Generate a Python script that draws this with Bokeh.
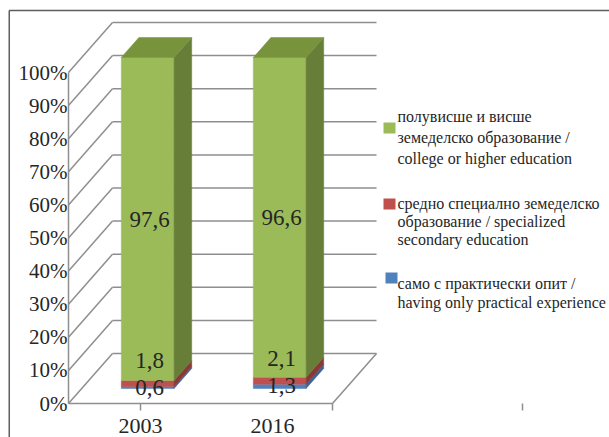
from bokeh.plotting import figure
from bokeh.embed import file_html
from bokeh.resources import INLINE
from bokeh.core.properties import value
from bokeh.models import Range1d, ColumnDataSource

# ---------------- data ----------------
years = ["2003", "2016"]
practical = [0.6, 1.3]      # само с практически опит
secondary = [1.8, 2.1]      # средно специално
higher = [97.6, 96.6]       # полувисше и висше
y_ticks = [0, 10, 20, 30, 40, 50, 60, 70, 80, 90, 100]
y_tick_labels = [f"{t}%" for t in y_ticks]
series_values = [practical, secondary, higher]
series_legend = [
    ["полувисше и висше", "земеделско образование /", "college or higher education"],
    ["средно специално земеделско", "образование / specialized", "secondary education"],
    ["само с практически опит /", "having only practical experience"],
]

# ---------------- styling / layout ----------------
front_cols = ["#4F81BD", "#C0504D", "#9BBB59"]
side_cols = ["#3A6495", "#8A3735", "#667E37"]
top_cols = ["#4673A8", "#A3413F", "#77933C"]
legend_cols = ["#9BBB59", "#C0504D", "#4F81BD"]
TXT = "#262626"
GRID = "#8E8E8E"
FONT = value("serif")

W, H = 609, 437
PX0, PY0 = 68.0, 403.0     # page pixel of front axis origin
SX, SY = 132.0, 3.31       # px per category unit, px per percent


def px2x(px):
    return (px - PX0) / SX


def py2y(py):
    return (PY0 - py) / SY


DX = 44.0 / SX   # depth offset of back wall (x units)
DY = 50.0 / SY   # depth offset of back wall (percent units)
F1, F2 = 0.3, 0.7  # bar depth span
HALF = 0.2
ncat = len(years)

p = figure(width=W, height=H, output_backend="svg", toolbar_location=None,
           x_axis_location=None, y_axis_location=None,
           x_range=Range1d(px2x(0), px2x(W)),
           y_range=Range1d(py2y(H), py2y(0)),
           min_border=0, outline_line_color=None)
p.grid.visible = False
p.background_fill_color = "white"

# outer frame (top and left edge)
p.line([px2x(8.5), px2x(620)], [py2y(10), py2y(10)], line_color="#5E5E5E", line_width=1.5)
p.line([px2x(8.75), px2x(8.75)], [py2y(10), py2y(440)], line_color="#5E5E5E", line_width=1.5)

# walls / grid
xs, ys = [], []
for t in y_ticks:
    xs.append([DX, ncat + DX]); ys.append([t + DY, t + DY])   # back wall
    xs.append([0, DX]); ys.append([t, t + DY])                # side wall diagonals
xs.append([0, 0]); ys.append([0, 100])                         # front vertical axis
xs.append([0, ncat]); ys.append([0, 0])                        # floor front edge
xs.append([ncat, ncat + DX]); ys.append([0, DY])               # floor right edge
p.multi_line(xs, ys, line_color=GRID, line_width=1.5)

# category tick marks
tick_x = [px2x(140), ncat, px2x(522)]
p.multi_line([[x, x] for x in tick_x], [[0, -7 / SY] for _ in tick_x],
             line_color=GRID, line_width=1.5)

# bars
for i in range(ncat):
    xl = i + 0.5 - HALF
    xr = i + 0.5 + HALF
    base = 0.0
    for s, vals in enumerate(series_values):
        v = vals[i]
        b, t = base, base + v
        p.patch([xl + F1 * DX, xr + F1 * DX, xr + F1 * DX, xl + F1 * DX],
                [b + F1 * DY, b + F1 * DY, t + F1 * DY, t + F1 * DY],
                fill_color=front_cols[s], line_color=front_cols[s], line_width=0.5)
        p.patch([xr + F1 * DX, xr + F2 * DX, xr + F2 * DX, xr + F1 * DX],
                [b + F1 * DY, b + F2 * DY, t + F2 * DY, t + F1 * DY],
                fill_color=side_cols[s], line_color=side_cols[s], line_width=0.5)
        base = t
        if s == len(series_values) - 1:
            p.patch([xl + F1 * DX, xr + F1 * DX, xr + F2 * DX, xl + F2 * DX],
                    [t + F1 * DY, t + F1 * DY, t + F2 * DY, t + F2 * DY],
                    fill_color=top_cols[s], line_color=top_cols[s], line_width=0.5)

# data labels
lab_off = [[0, -23, 0], [-1, -22, 0]]
lx, ly, lt, lo = [], [], [], []
for i in range(ncat):
    base = 0.0
    for s, vals in enumerate(series_values):
        v = vals[i]
        lx.append(i + 0.5 + F1 * DX + 2 / SX)
        ly.append(base + v / 2 + F1 * DY)
        lt.append(f"{v:.1f}".replace(".", ","))
        lo.append(lab_off[i][s])
        base += v
p.text(x="x", y="y", text="t", y_offset="o",
       source=ColumnDataSource(dict(x=lx, y=ly, t=lt, o=lo)),
       text_font=FONT, text_font_size=value("23px"), text_color=TXT,
       text_align="center", text_baseline="middle")

# y tick labels
p.text(x=[0] * len(y_ticks), y=y_ticks, text=y_tick_labels, x_offset=-1,
       text_font=FONT, text_font_size=value("21px"), text_color=TXT,
       text_align="right", text_baseline="middle")

# category labels
p.text(x=[i + 0.5 for i in range(ncat)], y=[0] * ncat, text=years,
       x_offset=6, y_offset=22,
       text_font=FONT, text_font_size=value("22px"), text_color=TXT,
       text_align="center", text_baseline="middle")

# legend
sq = [(383, 122), (383, 198), (385, 272)]
baselines = [[116, 137, 158], [203, 221, 239], [283, 302]]
for k in range(3):
    sx, sy = sq[k]
    p.quad(left=[px2x(sx)], right=[px2x(sx + 12)], top=[py2y(sy)], bottom=[py2y(sy + 11)],
           fill_color=legend_cols[k], line_color=None)
    p.text(x=[px2x(397)] * len(series_legend[k]), y=[py2y(b) for b in baselines[k]],
           text=series_legend[k], text_font=FONT, text_font_size=value("16px"),
           text_color=TXT, text_align="left", text_baseline="alphabetic")

open("out.html", "w").write(file_html(p, INLINE))
